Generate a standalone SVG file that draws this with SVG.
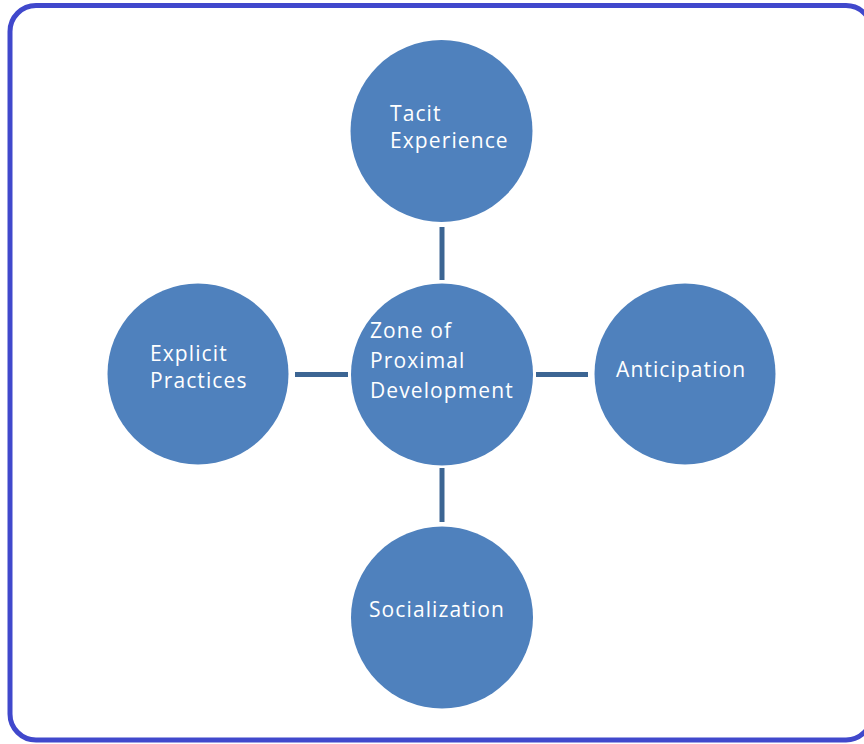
<svg xmlns="http://www.w3.org/2000/svg" width="864" height="744" viewBox="0 0 864 744">
<style>
.node circle{fill:#4f81bd;}
.node text{fill:#ffffff;font-family:"Open Sans","Liberation Sans",sans-serif;font-size:21px;letter-spacing:1.1px;}
.conn line{stroke:#3c6593;stroke-width:5;}
</style>
<rect x="0" y="0" width="864" height="744" fill="#ffffff"/>
<rect id="frame" x="10" y="5.5" width="862" height="734.5" rx="26" ry="26" fill="none" stroke="#4048cc" stroke-width="5"/>
<g id="connectors" class="conn">
<line x1="442" y1="227" x2="442" y2="280"/>
<line x1="295" y1="374.5" x2="348" y2="374.5"/>
<line x1="536" y1="374.5" x2="588" y2="374.5"/>
<line x1="442" y1="468" x2="442" y2="522"/>
</g>
<g id="tacit" class="node">
<circle cx="441.5" cy="131" r="91"/>
<text x="390" y="121">Tacit</text>
<text x="390" y="148">Experience</text>
</g>
<g id="zpd" class="node">
<circle cx="442" cy="374.5" r="91"/>
<text x="370" y="338">Zone of</text>
<text x="370" y="368">Proximal</text>
<text x="370" y="398">Development</text>
</g>
<g id="explicit" class="node">
<circle cx="198" cy="374" r="90.5"/>
<text x="150" y="361">Explicit</text>
<text x="150" y="388">Practices</text>
</g>
<g id="anticipation" class="node">
<circle cx="685" cy="374" r="90.5"/>
<text x="616" y="377">Anticipation</text>
</g>
<g id="socialization" class="node">
<circle cx="442" cy="617.5" r="91"/>
<text x="369" y="617">Socialization</text>
</g>
</svg>
